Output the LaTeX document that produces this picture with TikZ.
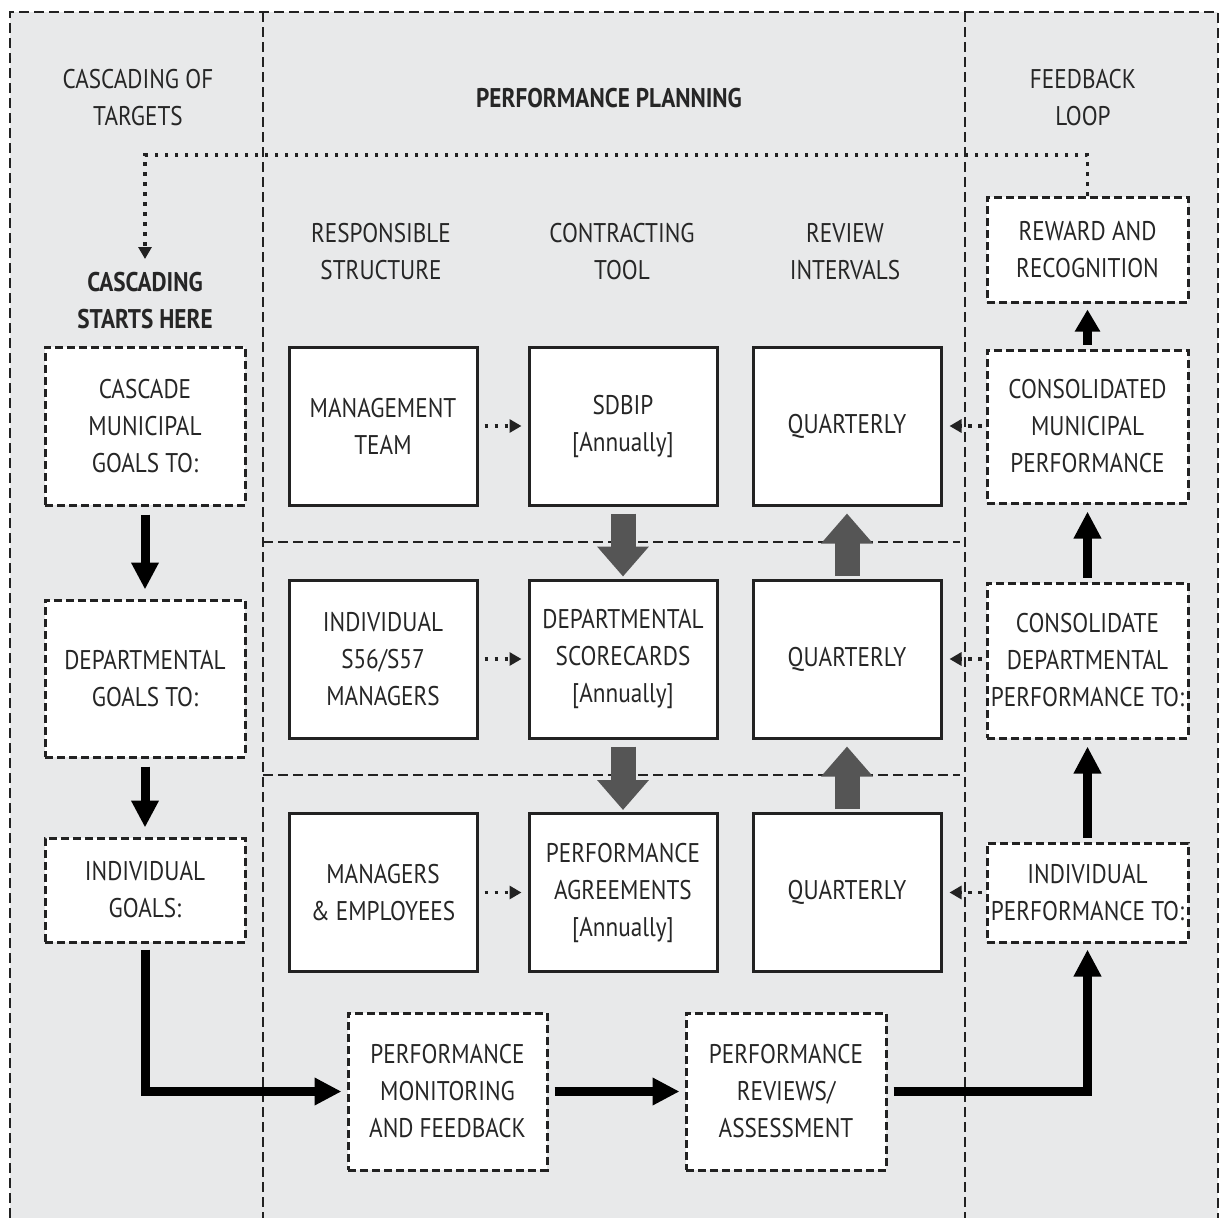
\documentclass[tikz,border=0pt]{standalone}
\usepackage{fontspec}
\setmainfont{PT Sans}[FakeStretch=0.86]
\usetikzlibrary{arrows.meta}
\definecolor{panel}{HTML}{E8E9EA}
\definecolor{ink}{HTML}{262626}
\definecolor{rule}{HTML}{222222}
\definecolor{blockarrow}{HTML}{555555}
\tikzset{
  txt/.style={text=ink, align=center, font=\fontsize{27}{37}\selectfont, inner sep=0pt},
  frameline/.style={draw=rule, line width=2.8pt, dash pattern=on 10pt off 5pt},
  dotline/.style={draw=rule, line width=3.2pt, dash pattern=on 3.5pt off 6.5pt},
  solidbox/.style={txt, draw=rule, line width=3pt, fill=white, minimum width=188pt, minimum height=158pt},
  dashbox/.style={txt, draw=rule, line width=3pt, dash pattern=on 8pt off 4pt, fill=white, minimum width=200pt},
  bigarrow/.style={draw=black, line width=9pt, line join=miter, -{Triangle[length=27pt,width=26pt]}},
  grayarrow/.style={draw=blockarrow, line width=25pt, -{Triangle[length=30pt,width=50pt]}},
  dotarrow/.style={dotline, -{Triangle[length=12pt,width=13pt]}},
}
\begin{document}
\begin{tikzpicture}[x=1pt,y=-1pt]
\useasboundingbox (0,0) rectangle (1221,1218);
% panel background
\fill[panel] (10,12) rectangle (1218,1218);

% frame and column dividers
\draw[frameline] (10,1218) -- (10,12) -- (1218,12) -- (1218,1218);
\draw[frameline] (263,12) -- (263,1218);
\draw[frameline] (965,12) -- (965,1218);
\draw[frameline] (263,542) -- (960,542);
\draw[frameline] (263,775) -- (960,775);

% section headings
\node[txt] (hCasc) at (138,98) {CASCADING OF\\TARGETS};
\node[txt, font=\fontsize{27}{37}\bfseries\selectfont] (hPlan) at (609,98) {PERFORMANCE PLANNING};
\node[txt] (hFeed) at (1083,98) {FEEDBACK\\LOOP};
\node[txt, font=\fontsize{27}{37}\bfseries\selectfont] (hStart) at (145,301) {CASCADING\\STARTS HERE};
\node[txt] (hResp) at (381,252) {RESPONSIBLE\\STRUCTURE};
\node[txt] (hTool) at (622,252) {CONTRACTING\\TOOL};
\node[txt] (hInt) at (845,252) {REVIEW\\INTERVALS};

% cascading column
\node[dashbox, minimum height=158pt] (lb1) at (145,426) {CASCADE\\MUNICIPAL\\GOALS TO:};
\node[dashbox, minimum height=157pt] (lb2) at (145,678.5) {DEPARTMENTAL\\GOALS TO:};
\node[dashbox, minimum height=104pt] (lb3) at (145,890) {INDIVIDUAL\\GOALS:};

% planning grid
\node[solidbox] (m11) at (383,426) {MANAGEMENT\\TEAM};
\node[solidbox] (m12) at (623,426) {SDBIP\\{[Annually]}};
\node[solidbox] (m13) at (847,426) {QUARTERLY};
\node[solidbox] (m21) at (383,659) {INDIVIDUAL\\S56/S57\\MANAGERS};
\node[solidbox] (m22) at (623,659) {DEPARTMENTAL\\SCORECARDS\\{[Annually]}};
\node[solidbox] (m23) at (847,659) {QUARTERLY};
\node[solidbox] (m31) at (383,892.5) {MANAGERS\\\& EMPLOYEES};
\node[solidbox] (m32) at (623,892.5) {PERFORMANCE\\AGREEMENTS\\{[Annually]}};
\node[solidbox] (m33) at (847,892.5) {QUARTERLY};

% feedback column
\node[dashbox, minimum width=201pt, minimum height=105pt] (rr0) at (1087.5,249.5) {REWARD AND\\RECOGNITION};
\node[dashbox, minimum width=201pt, minimum height=153pt] (rr1) at (1087.5,426.5) {CONSOLIDATED\\MUNICIPAL\\PERFORMANCE};
\node[dashbox, minimum width=201pt, minimum height=155pt] (rr2) at (1087.5,660.5) {CONSOLIDATE\\DEPARTMENTAL\\PERFORMANCE TO:};
\node[dashbox, minimum width=201pt, minimum height=99pt] (rr3) at (1087.5,892.5) {INDIVIDUAL\\PERFORMANCE TO:};

% monitoring and review
\node[dashbox, minimum width=199pt, minimum height=157pt] (pm) at (447.5,1091.5) {PERFORMANCE\\MONITORING\\AND FEEDBACK};
\node[dashbox, minimum height=157pt] (pr) at (786,1091.5) {PERFORMANCE\\REVIEWS/\\ASSESSMENT};

% feedback loop back to the start of the cascade
\coordinate (loopR) at (1087.5,155);
\coordinate (loopL) at (145,155);
\coordinate (loopEnd) at (145,259);
\draw[dotarrow] (rr0.north) -- (loopR) -- (loopL) -- (loopEnd);

% cascading arrows
\draw[bigarrow] ([yshift=-8pt]lb1.south) -- ([yshift=9pt]lb2.north);
\draw[bigarrow] ([yshift=-8pt]lb2.south) -- ([yshift=9pt]lb3.north);
\draw[bigarrow] ([yshift=-6pt]lb3.south) |- ([xshift=-5pt]pm.west);
\draw[bigarrow] ([xshift=6pt]pm.east) -- ([xshift=-5pt]pr.west);
\draw[bigarrow] ([xshift=6pt]pr.east) -| ([yshift=-6pt]rr3.south);

% consolidation arrows
\draw[bigarrow] ([yshift=4pt]rr3.north) -- ([yshift=-7pt]rr2.south);
\draw[bigarrow] ([yshift=4pt]rr2.north) -- ([yshift=-7pt]rr1.south);
\draw[bigarrow, -{Triangle[length=22pt,width=24pt]}] ([yshift=4pt]rr1.north) -- ([yshift=-6pt]rr0.south);

% contracting tools cascade down, reviews roll up
\draw[grayarrow] ([yshift=-7pt]m12.south) -- ([yshift=2pt]m22.north);
\draw[grayarrow] ([yshift=-7pt]m22.south) -- ([yshift=2pt]m32.north);
\draw[grayarrow] ([yshift=3pt]m23.north) -- ([yshift=-7pt]m13.south);
\draw[grayarrow] ([yshift=3pt]m33.north) -- ([yshift=-7pt]m23.south);

% responsible structure to contracting tool
\draw[dotarrow] ([xshift=6pt]m11.east) -- ([xshift=-6pt]m12.west);
\draw[dotarrow] ([xshift=6pt]m21.east) -- ([xshift=-6pt]m22.west);
\draw[dotarrow] ([xshift=6pt]m31.east) -- ([xshift=-6pt]m32.west);

% performance results feed the review intervals
\draw[dotarrow] ([xshift=-4pt]rr1.west |- m13.east) -- ([xshift=7pt]m13.east);
\draw[dotarrow] ([xshift=-4pt]rr2.west |- m23.east) -- ([xshift=7pt]m23.east);
\draw[dotarrow] ([xshift=-4pt]rr3.west |- m33.east) -- ([xshift=7pt]m33.east);
\end{tikzpicture}
\end{document}
